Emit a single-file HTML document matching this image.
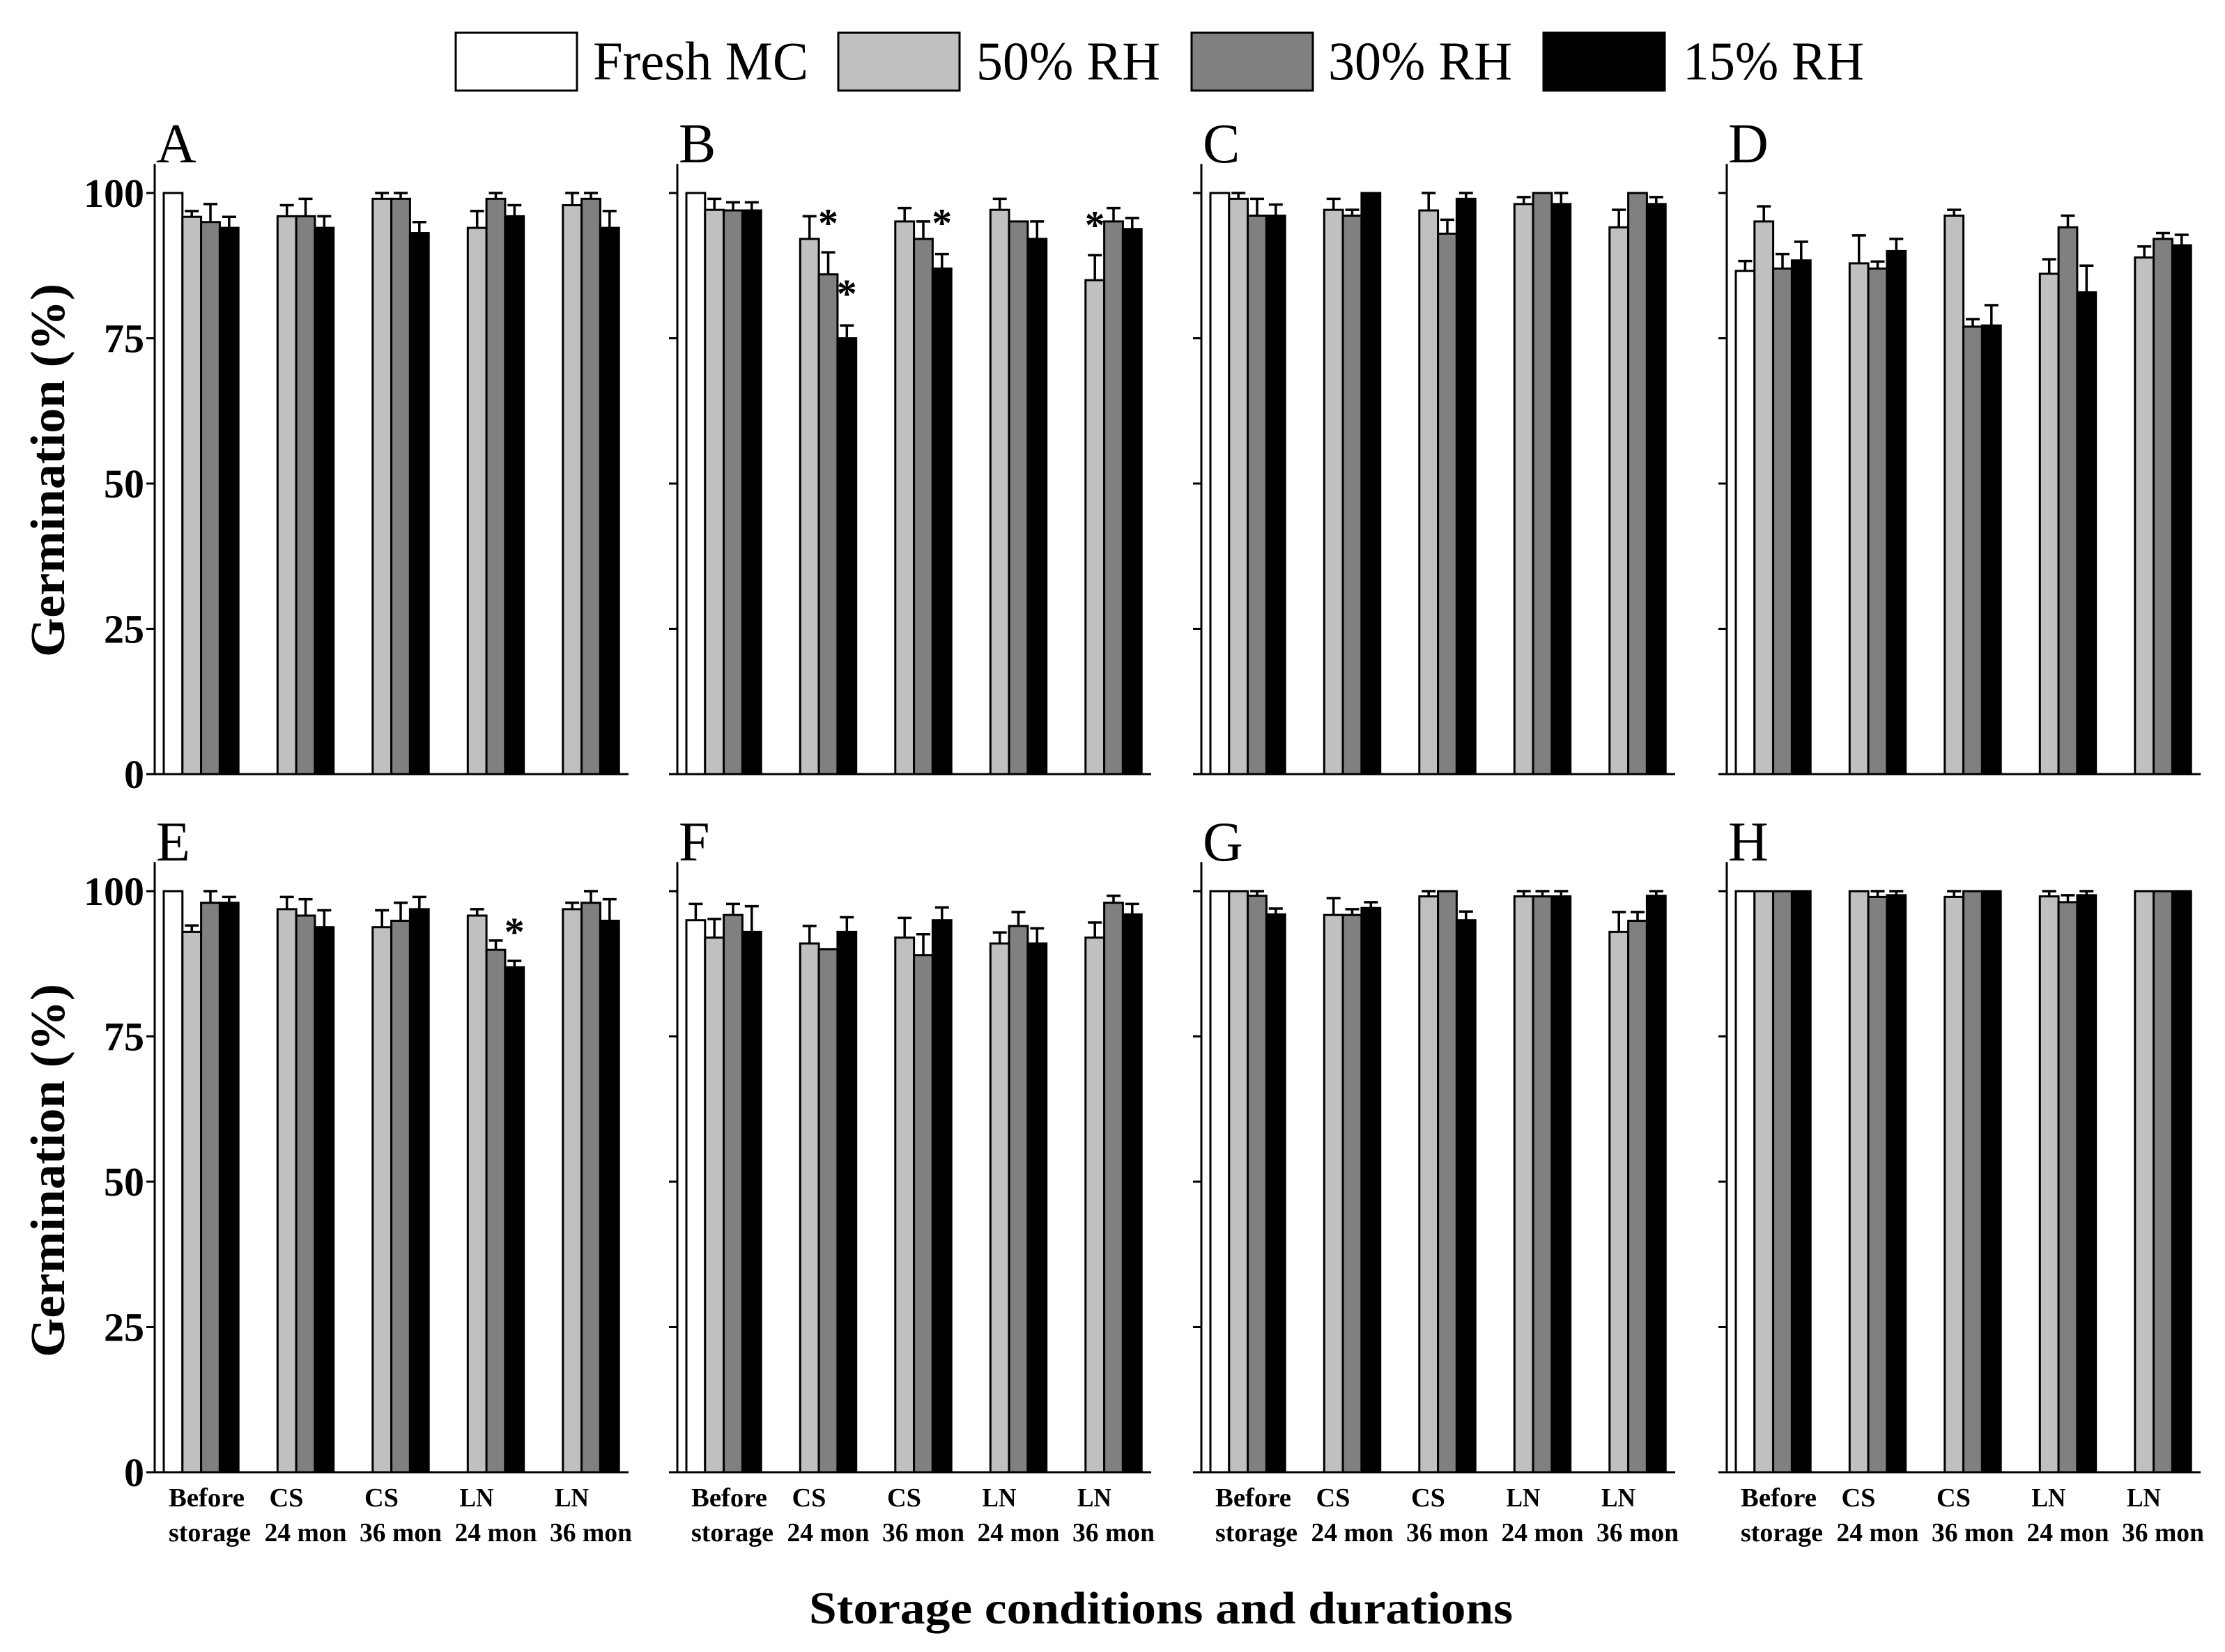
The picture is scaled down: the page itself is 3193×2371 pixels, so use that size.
<!DOCTYPE html>
<html><head><meta charset="utf-8"><style>
html,body{margin:0;padding:0;background:#fff;}
svg{display:block;}
text{font-family:"Liberation Serif",serif;}
</style></head><body>
<svg id="chart" width="3193" height="2371" viewBox="0 0 3193 2371" xmlns="http://www.w3.org/2000/svg">
<g id="legend"></g>
<g id="panels"></g>
<text x="1666" y="2330" text-anchor="middle" font-weight="bold" font-size="66" textLength="1010" lengthAdjust="spacingAndGlyphs">Storage conditions and durations</text>
</svg>
<script>
const panelLabels = ['A','B','C','D','E','F','G','H'];
const categoryLine1 = ['Before','CS','CS','LN','LN'];
const categoryLine2 = ['storage','24 mon','36 mon','24 mon','36 mon'];
const seriesNames = ['Fresh MC','50% RH','30% RH','15% RH'];
const yTicks = [0,25,50,75,100];
// Fresh MC only exists for "Before storage"
const freshVals = [100,100,100,86.6,100,95,100,100];
const freshErr  = [100,100,100,88.3,100,97.8,100,100];
const rh50 = [
 [95.9,96,99,94,97.9],[97.1,92.1,95.1,97.1,85],[99,97.1,97,98.1,94.1],[95.1,87.9,96.1,86.1,88.9],
 [93,96.9,93.8,95.8,96.9],[92,91,92,91,92],[100,95.9,99.1,99.1,93],[100,100,99,99.1,100]];
const rh50Err = [
 [96.9,97.9,100,96.9,100],[99,96,97.4,99,89.3],[100,99,100,99.3,97.1],[97.7,92.7,97.1,88.6,90.8],
 [94.1,99,96.7,96.9,98],[95.2,94,95.4,92.9,94.6],[100,98.8,100,100,96.4],[100,100,100,100,100]];
const rh30 = [
 [95,96,99,99,99],[97,86,92.1,95.1,95.1],[96.1,96.1,93,100,100],[87,87,77,94.1,92.1],
 [98,95.8,94.9,89.9,98],[95.9,90,89,94,98],[99.2,95.9,100,99.1,94.9],[100,99,100,98.1,100]];
const rh30Err = [
 [98.1,99,100,100,100],[98.4,89.8,95.1,95.1,97.4],[99,97.1,95.4,100,100],[89.5,88.2,78.3,96.1,93.1],
 [100,98.6,98,91.5,100],[97.8,90,92.6,96.4,99.2],[100,96.9,100,100,96.4],[100,100,100,99.3,100]];
const rh15 = [
 [94,94,93.1,96,94],[97,75,87,92.1,93.8],[96.1,100,99,98.1,98.1],[88.4,90,77.2,82.9,91],
 [98,93.8,96.9,86.9,94.9],[93,93,95,91,96],[96,97.1,95,99.1,99.2],[100,99.3,100,99.3,100]];
const rh15Err = [
 [95.9,96,95,97.9,96.9],[98.4,77.2,89.5,95.1,95.7],[98,100,100,100,99.3],[91.6,92.1,80.7,87.5,92.8],
 [99,96.7,99,88,98.6],[97.4,95.5,97.2,93.6,97.8],[97,98.1,96.5,100,100],[100,100,100,100,100]];
// significance stars: panel index, group index, series index (1..3), y value
const starPanel  = [1,1,1,1,4];
const starGroup  = [1,1,2,4,3];
const starSeries = [2,3,3,1,3];
const starValue  = [95.4,83.2,95.4,95,93.5];

const NS='http://www.w3.org/2000/svg';
const fills = ['#ffffff','#c0c0c0','#808080','#000000'];
const axisX = [222,972,1724,2478];
const rowZeroY = [1111,2113];
const pxPerUnit = 8.34;
const barW = 26.8, groupPitch = 136.5, firstOffset = 13;
function mk(tag, attrs, parent){const e=document.createElementNS(NS,tag);for(const k in attrs)e.setAttribute(k,attrs[k]);parent.appendChild(e);return e;}
function yScale(row,v){return rowZeroY[row]-v*pxPerUnit;}
function xScale(col,g,s){return axisX[col]+firstOffset+g*groupPitch+s*barW;}

// legend
const legend=document.getElementById('legend');
const legBoxX=[654,1203,1710,2215], legTextX=[851,1401,1906,2415], legTextLen=[309,264,264,260];
seriesNames.forEach((n,i)=>{
  const g=mk('g',{},legend);
  
  
  const r=mk('rect',{x:legBoxX[i],y:47,width:174,height:83,fill:fills[i],stroke:'#000','stroke-width':3},g);
  
  
  const t=mk('text',{x:legTextX[i],y:114,'font-size':78,textLength:legTextLen[i],lengthAdjust:'spacingAndGlyphs'},g);
  
  
  t.textContent=n;
});

const panels=document.getElementById('panels');
panelLabels.forEach((lab,p)=>{
  const row=Math.floor(p/4), col=p%4, x0=axisX[col], y0=rowZeroY[row];
  const g=mk('g',{},panels);
  
  
  const pl=mk('text',{x:x0+2,y:y0-878,'font-size':80},g);
  
  
  pl.textContent=lab;
  for(let gi=0;gi<5;gi++){
    for(let s=0;s<4;s++){
      let v,e;
      if(s===0){ if(gi!==0) continue; v=freshVals[p]; e=freshErr[p]; }
      else { v=[rh50,rh30,rh15][s-1][p][gi]; e=[rh50Err,rh30Err,rh15Err][s-1][p][gi]; }
      const bx=xScale(col,gi,s), by=yScale(row,v);
      const b=mk('rect',{x:bx,y:by,width:barW,height:y0-by,fill:fills[s],stroke:'#000','stroke-width':3},g);
      
      
      if(e>v+0.05){
        const cx=bx+barW/2, ey=yScale(row,e);
        const eb=mk('path',{d:`M${cx},${by} V${ey} M${cx-10},${ey} H${cx+10}`,stroke:'#000','stroke-width':3.5,fill:'none'},g);
        
        
      }
    }
  }
  const ax=mk('path',{d:`M${x0},${yScale(row,105)} V${y0} H${x0+680}`,stroke:'#000','stroke-width':3,fill:'none'},g);
  
  
  yTicks.forEach(t=>{
    const ty=yScale(row,t);
    const tk=mk('line',{x1:x0-12,x2:x0,y1:ty,y2:ty,stroke:'#000','stroke-width':3},g);
    
    
    if(col===0){
      const tl=mk('text',{x:x0-15,y:ty+20,'text-anchor':'end','font-size':58,'font-weight':'bold'},g);
      
      
      tl.textContent=t;
    }
  });
  if(col===0){
    const cy=row===0?675:1680;
    const yt=mk('text',{x:0,y:0,transform:`translate(92,${cy}) rotate(-90)`,'text-anchor':'middle','font-size':70,'font-weight':'bold',textLength:536,lengthAdjust:'spacingAndGlyphs'},g);
    
    
    yt.textContent='Germination (%)';
  }
  if(row===1){
    for(let gi=0;gi<5;gi++){
      const c = gi===0 ? xScale(col,0,0)+66 : xScale(col,gi,1)+barW*1.5;
      const l1=mk('text',{x:c+(gi===0?-59:-52),y:2162,'font-size':38,'font-weight':'bold',textLength:(gi===0?109:49),lengthAdjust:'spacingAndGlyphs'},g);
      
      
      l1.textContent=categoryLine1[gi];
      const l2=mk('text',{x:c,y:2212,'text-anchor':'middle','font-size':38,'font-weight':'bold',textLength:118,lengthAdjust:'spacingAndGlyphs'},g);
      
      
      l2.textContent=categoryLine2[gi];
    }
  }
});
starPanel.forEach((p,i)=>{
  const row=Math.floor(p/4), col=p%4;
  const cx=xScale(col,starGroup[i],starSeries[i])+barW/2;
  const st=mk('text',{x:cx,y:yScale(row,starValue[i])+24,'text-anchor':'middle','font-size':58,'font-weight':'bold'},panels);
  
  
  st.textContent='*';
});
</script>
</body></html>
